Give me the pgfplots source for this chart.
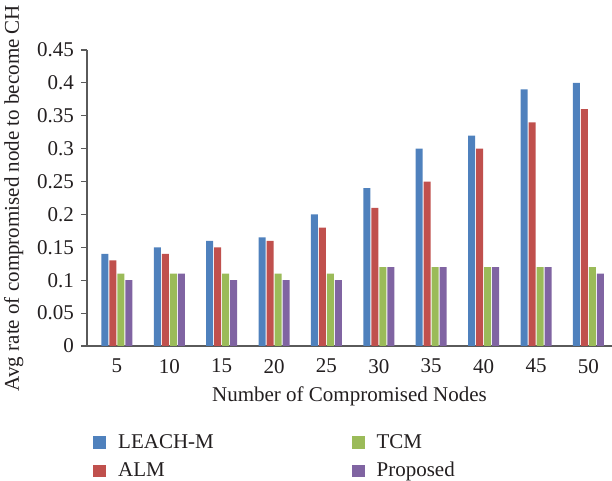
\documentclass[border=0pt]{standalone}
\usepackage{pgfplots}
\usepackage{pgfplotstable}
\pgfplotsset{compat=1.18}
\usepackage{fontspec}
\setmainfont{Liberation Serif}
\definecolor{cA}{HTML}{4F81BD}
\definecolor{cB}{HTML}{C0504D}
\definecolor{cC}{HTML}{9BBB59}
\definecolor{cD}{HTML}{8064A2}
\definecolor{axgray}{HTML}{5A5A5A}
\definecolor{txt}{HTML}{231F20}
\pgfplotstableread{
x a b c d
0 0.14 0.13 0.11 0.10
1 0.15 0.14 0.11 0.11
2 0.16 0.15 0.11 0.10
3 0.165 0.16 0.11 0.10
4 0.20 0.18 0.11 0.10
5 0.24 0.21 0.12 0.12
6 0.30 0.25 0.12 0.12
7 0.32 0.30 0.12 0.12
8 0.39 0.34 0.12 0.12
9 0.40 0.36 0.12 0.11
}\datatable
\begin{document}
\begin{tikzpicture}
\begin{axis}[name=ax,
  width=262.5pt, height=148pt, scale only axis,
  ybar=0.5pt, bar width=3.5pt,
  xmin=-0.57, xmax=9.45, ymin=0, ymax=0.45,
  xtick=data, xticklabels={5,10,15,20,25,30,35,40,45,50},
  ytick={0,0.05,0.1,0.15,0.2,0.25,0.3,0.35,0.4,0.45},
  yticklabels={0,0.05,0.1,0.15,0.2,0.25,0.3,0.35,0.4,0.45},
  axis lines*=left,
  axis line style={draw=axgray, line width=0.8pt},
  x tick style={draw=none},
  y tick style={draw=axgray, line width=0.6pt},
  ytick pos=left,
  tick align=outside, major tick length=3pt,
  tick label style={font=\fontsize{10.5}{12}\selectfont, text=txt},
  label style={font=\fontsize{10.5}{12}\selectfont, text=txt},
  xlabel={Number of Compromised Nodes},
  ylabel={Avg rate of compromised node to become CH},
  legend columns=2, transpose legend,
  legend cell align=left,
  legend image code/.code={\fill[#1] (0pt,-3.2pt) rectangle (6.4pt,3.2pt);},
  legend style={draw=none, at={(axis description cs:0,-0.27)}, anchor=north west,
    font=\fontsize{10.5}{12}\selectfont, text=txt,
    /tikz/every odd column/.append style={column sep=4pt},
    /tikz/every even column/.append style={column sep=67pt},
    row sep=1.5pt},
]
\addplot[fill=cA, draw=none] table[x=x, y=a] {\datatable};
\addlegendentry{LEACH-M}
\addplot[fill=cB, draw=none] table[x=x, y=b] {\datatable};
\addlegendentry{ALM}
\addplot[fill=cC, draw=none] table[x=x, y=c] {\datatable};
\addlegendentry{TCM}
\addplot[fill=cD, draw=none] table[x=x, y=d] {\datatable};
\addlegendentry{Proposed}
\end{axis}
\pgfresetboundingbox
\path ([shift={(-43.5pt,-67.5pt)}]ax.south west) rectangle ([shift={(262.5pt,173pt)}]ax.south west);
\end{tikzpicture}
\end{document}
